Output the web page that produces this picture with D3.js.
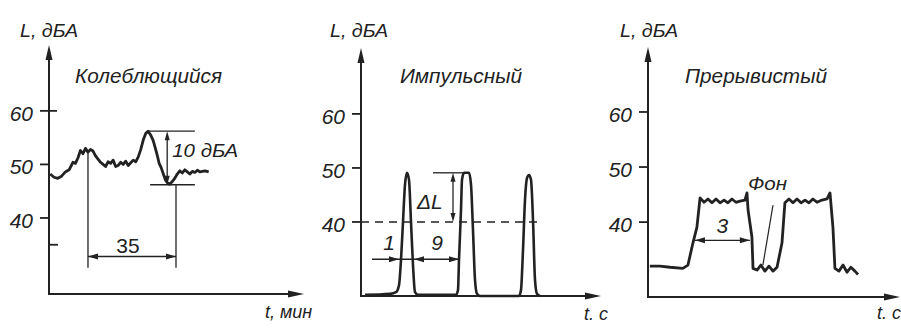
<!DOCTYPE html>
<html>
<head>
<meta charset="utf-8">
<script src="https://cdn.jsdelivr.net/npm/d3@7/dist/d3.min.js"></script>
<style>
	body { margin: 0; background: #fff; }
	text { font-family: "Liberation Sans", Arial, sans-serif; font-style: italic; fill: #222; }
</style>
</head>
<body>
<svg width="901" height="329"></svg>
<script>
// ---- data ----
var titles = ['Колеблющийся', 'Импульсный', 'Прерывистый'];
var yLabel = 'L, дБА';
var xLabels = ['t, мин', 't. c', 't. c'];
var tickValues = [60, 50, 40];

// fluctuating noise, t in minutes, L in dBA
var fluct = [[0.5,48.2],[2,47.6],[3.5,47.4],[5,47.8],[6.5,48.6],[8,49],[9.5,50.4],[10.5,50.2],[11.5,51.2],
	[12.5,52.6],[13.5,52],[14.5,53],[15.5,52.3],[16.5,52.8],[17.5,52.5],[18.5,51.6],[19.5,51],[20.5,50.4],
	[21.5,50],[22.5,49.6],[23.5,50.5],[24.5,50.2],[25.5,50.8],[26.5,49.6],[27.5,49.8],[28.5,50.4],[29.5,50],
	[30.5,50.6],[31.5,49.8],[32.5,50.3],[33.5,50.8],[34.5,50.5],[35.5,51.4],[36.5,52.8],[37.5,54.6],[38.5,55.8],
	[39.4,56.2],[40.4,55.5],[41.4,54.5],[42.2,53.2],[43,51.8],[43.8,50.2],[44.6,49.4],[45.4,48.3],[46.2,47.2],
	[47,46.6],[48,46.3],[49,46.8],[50,47.4],[51,48.2],[52,48.8],[53,48.4],[54,49],[55,48.6],[56,48.2],
	[57,48.7],[58,48.5],[59,48.9],[60,48.6],[61,48.7],[62,48.8],[63.5,48.6]];

// impulse noise, t in seconds
var impulse = [[0.8,26.5],[5.8,26.7],[7,27],[7.6,28.3],[8,33],[8.4,40],[8.8,46.9],[9.2,49.1],[9.6,47.8],
	[10,40],[10.4,32],[10.8,27],[11.4,26.5],[19,26.5],[19.4,27.4],[19.6,33],[20,42.2],[20.2,47.8],[20.6,49.1],
	[21.6,49.1],[22,46.9],[22.4,38.5],[22.8,29.3],[23.2,26.7],[23.8,26.3],[31.6,26.3],[32,27.4],[32.4,34.8],
	[32.8,44.1],[33.2,48.1],[33.6,48.7],[34,47.8],[34.4,40.4],[34.8,29.3],[35.2,26.7],[35.8,26.3]];

// intermittent noise, t in seconds
var intermit = [[0.1,32],[0.65,32],[1.2,31.8],[1.9,31.6],[2.18,32.2],[2.45,36.2],[2.67,39.1],[2.84,44.4],
	[3.06,43.6],[3.27,44.2],[3.49,43.5],[3.71,44.2],[3.93,43.5],[4.15,44],[4.36,43.5],[4.58,44.2],[4.8,43.6],
	[5.02,43.8],[5.29,44],[5.4,45.3],[5.46,42.2],[5.67,37.3],[5.73,31.6],[5.95,31.3],[6.16,32.2],[6.38,31.1],
	[6.6,32],[6.82,31.1],[7.04,31.8],[7.31,36.2],[7.47,43.5],[7.69,44.2],[7.91,43.5],[8.13,44.2],[8.35,43.5],
	[8.57,44],[8.78,43.5],[9,44.2],[9.22,43.6],[9.49,44],[9.77,44.2],[9.93,45.3],[10.09,39.1],[10.2,31.6],
	[10.42,31.1],[10.64,32.2],[10.86,30.9],[11.07,31.8],[11.29,31.1],[11.46,30.5]];

// annotation values
var span35 = [15.5, 50.5];		// minutes
var range10 = [46.2, 56.2];		// dBA
var pulseLevel = 40, pulseTop = 49.1;
var pulseEdges = [7.6, 10.6, 19.6];	// 1 s pulse, 9 s pause
var intervalOn = [2.56, 5.56];		// 3 s

var svg = d3.select('svg');
var ink = '#222';
var fmt = d3.format('.0f');

// one set of scales per panel
var panels = [
	{ x: d3.scaleLinear().domain([0, 101.4]).range([49, 304]), y: d3.scaleLinear().domain([25.8, 72.3]).range([294, 45]), titleX: 75, labX: 20, xlabX: 265, xlabY: 318 },
	{ x: d3.scaleLinear().domain([0, 48]).range([361, 601]), y: d3.scaleLinear().domain([26.3, 72.2]).range([296, 48]), titleX: 400, labX: 330, xlabX: 584, xlabY: 320 },
	{ x: d3.scaleLinear().domain([0, 13.75]).range([648, 900]), y: d3.scaleLinear().domain([26.4, 71.8]).range([297, 47]), titleX: 685, labX: 620, xlabX: 877, xlabY: 319 }
];
var titleWidths = [147, 122, 142];

// filled triangle with its tip at (x, y)
function head(g, x, y, dir, len, hw) {
	var pts;
	if (dir === 'up') pts = [[x, y], [x - hw, y + len], [x + hw, y + len]];
	if (dir === 'down') pts = [[x, y], [x - hw, y - len], [x + hw, y - len]];
	if (dir === 'right') pts = [[x, y], [x - len, y - hw], [x - len, y + hw]];
	if (dir === 'left') pts = [[x, y], [x + len, y - hw], [x + len, y + hw]];
	g.append('path').attr('d', 'M' + pts.join('L') + 'Z').attr('fill', ink);
}

function seg(g, x1, y1, x2, y2, w) {
	return g.append('line')
		.attr('x1', x1).attr('y1', y1).attr('x2', x2).attr('y2', y2)
		.attr('stroke', ink).attr('stroke-width', w || 1.3);
}

panels.forEach(function(p, i) {
	var g = svg.append('g');
	var x0 = p.x.range()[0], x1 = p.x.range()[1];
	var y0 = p.y.range()[0], y1 = p.y.range()[1];

	// axes with arrows
	seg(g, x0, y0, x0, y1 + 10, 2);
	head(g, x0, y1, 'up', 15, 3.5);
	seg(g, x0 - 1, y0, x1 - 10, y0, 2);
	head(g, x1, y0, 'right', 16, 3.5);

	// ticks
	tickValues.forEach(function(v) {
		seg(g, x0 - 9, p.y(v), x0 + (i === 0 && v === 60 ? 8 : 0), p.y(v), 1.8);
		g.append('text')
			.attr('x', x0 - 16).attr('y', p.y(v) + 10)
			.attr('text-anchor', 'end')
			.attr('font-size', 21)
			.text(v);
	});

	g.append('text').attr('x', p.labX).attr('y', 37)
		.attr('font-size', 18).attr('textLength', 58).attr('lengthAdjust', 'spacingAndGlyphs')
		.text(yLabel);
	g.append('text').attr('x', p.titleX).attr('y', 83)
		.attr('font-size', 21).attr('textLength', titleWidths[i]).attr('lengthAdjust', 'spacingAndGlyphs')
		.text(titles[i]);
	g.append('text').attr('x', p.xlabX).attr('y', p.xlabY)
		.attr('font-size', 18)
		.text(xLabels[i]);
	p.g = g;
});

// ---- panel 1: fluctuating ----
var p = panels[0], g = p.g;
seg(g, p.x.range()[0], p.y(35), p.x.range()[0] + 9, p.y(35), 1.8);
g.append('path').datum(fluct)
	.attr('d', d3.line().x(function(d) { return p.x(d[0]); }).y(function(d) { return p.y(d[1]); }).curve(d3.curveLinear))
	.attr('fill', 'none').attr('stroke', ink).attr('stroke-width', 2.8).attr('stroke-linejoin', 'round');

seg(g, p.x(span35[0]), p.y(52.3), p.x(span35[0]), p.y(30.7));
seg(g, p.x(span35[1]), p.y(range10[0]), p.x(span35[1]), p.y(30.7));
seg(g, p.x(span35[0]), p.y(32.8), p.x(span35[1]), p.y(32.8));
head(g, p.x(span35[0]), p.y(32.8), 'left', 10, 3);
head(g, p.x(span35[1]), p.y(32.8), 'right', 10, 3);
g.append('text').attr('x', p.x(31.4)).attr('y', p.y(33.5)).attr('text-anchor', 'middle')
	.attr('font-size', 21).style('font-style', 'normal').text(fmt(span35[1] - span35[0]));

seg(g, p.x(39.4), p.y(range10[1]), p.x(58), p.y(range10[1]));
seg(g, p.x(40.2), p.y(range10[0]), p.x(58), p.y(range10[0]));
seg(g, p.x(47), p.y(range10[1]) + 8, p.x(47), p.y(range10[0]) - 8);
head(g, p.x(47), p.y(range10[1]), 'up', 9, 2.5);
head(g, p.x(47), p.y(range10[0]), 'down', 9, 2.5);
g.append('text').attr('x', p.x(49)).attr('y', p.y(51.3))
	.attr('font-size', 18).attr('textLength', 66).attr('lengthAdjust', 'spacingAndGlyphs')
	.text(fmt(range10[1] - range10[0]) + ' дБА');

// ---- panel 2: impulse ----
p = panels[1]; g = p.g;
seg(g, p.x(0), p.y(pulseLevel), p.x(36.2), p.y(pulseLevel), 1.6).attr('stroke-dasharray', '8,6');
g.append('path').datum(impulse)
	.attr('d', d3.line().x(function(d) { return p.x(d[0]); }).y(function(d) { return p.y(d[1]); }).curve(d3.curveMonotoneX))
	.attr('fill', 'none').attr('stroke', ink).attr('stroke-width', 2.6);

seg(g, p.x(14.4), p.y(pulseTop), p.x(20.6), p.y(pulseTop));
seg(g, p.x(18.4), p.y(pulseTop) + 8, p.x(18.4), p.y(pulseLevel) - 8);
head(g, p.x(18.4), p.y(pulseTop), 'up', 9, 2.5);
head(g, p.x(18.4), p.y(pulseLevel), 'down', 9, 2.5);
g.append('text').attr('x', p.x(11.2)).attr('y', p.y(42.4)).attr('font-size', 21).text('ΔL');

var ay = p.y(33.1);
seg(g, p.x(2.2), ay, p.x(pulseEdges[2]), ay);
head(g, p.x(pulseEdges[0]), ay, 'right', 10, 3);
head(g, p.x(pulseEdges[1]), ay, 'left', 10, 3);
head(g, p.x(pulseEdges[2]), ay, 'right', 10, 3);
g.append('text').attr('x', p.x(5.6)).attr('y', p.y(34.8)).attr('font-size', 21).attr('text-anchor', 'middle').text('1');
g.append('text').attr('x', p.x(15.2)).attr('y', p.y(34.8)).attr('font-size', 21).attr('text-anchor', 'middle').text('9');

// ---- panel 3: intermittent ----
p = panels[2]; g = p.g;
g.append('path').datum(intermit)
	.attr('d', d3.line().x(function(d) { return p.x(d[0]); }).y(function(d) { return p.y(d[1]); }).curve(d3.curveLinear))
	.attr('fill', 'none').attr('stroke', ink).attr('stroke-width', 2.8).attr('stroke-linejoin', 'round');

seg(g, p.x(intervalOn[0]), p.y(36.7), p.x(intervalOn[1]), p.y(36.7));
head(g, p.x(intervalOn[0]), p.y(36.7), 'left', 10, 3);
head(g, p.x(intervalOn[1]), p.y(36.7), 'right', 10, 3);
g.append('text').attr('x', p.x(4.05)).attr('y', p.y(38)).attr('font-size', 21).attr('text-anchor', 'middle')
	.text(fmt(intervalOn[1] - intervalOn[0]));
g.append('text').attr('x', p.x(5.46)).attr('y', p.y(45.8))
	.attr('font-size', 18).attr('textLength', 39).attr('lengthAdjust', 'spacingAndGlyphs').text('Фон');
seg(g, p.x(6.82), p.y(43.1), p.x(6.27), p.y(32.2), 1.2);
</script>
</body>
</html>
